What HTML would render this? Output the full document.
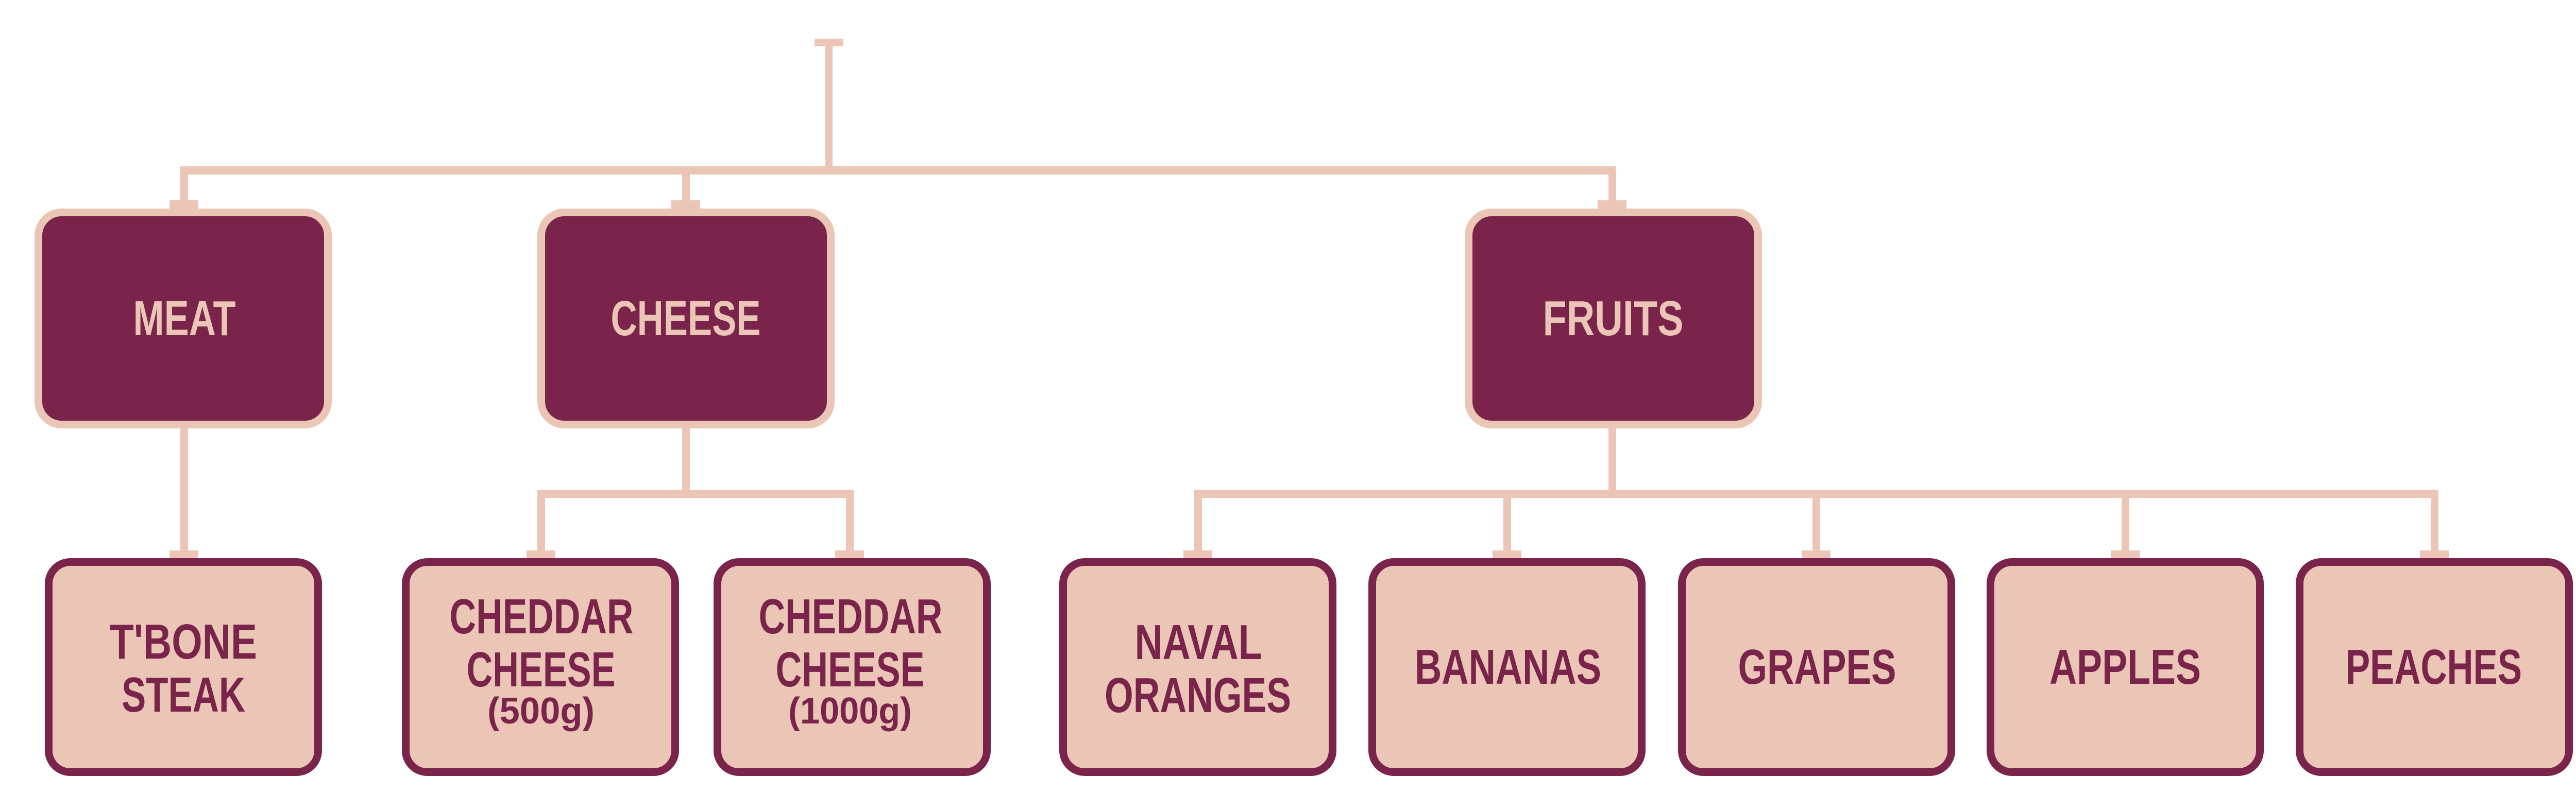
<!DOCTYPE html>
<html><head><meta charset="utf-8"><style>
html,body{margin:0;padding:0;background:#fff;}
svg{display:block;}
text{font-family:"Liberation Sans",sans-serif;text-anchor:middle;font-weight:bold;}
</style></head><body>
<svg width="5063" height="1575" viewBox="0 0 5063 1575" xmlns="http://www.w3.org/2000/svg">
<g fill="#EBC6B6">
<rect x="1581" y="75" width="56" height="15"/>
<rect x="1602" y="75" width="14" height="260"/>
<rect x="349" y="323" width="2788" height="16" rx="6"/>
<rect x="350" y="323" width="15" height="82"/>
<rect x="1324" y="323" width="15" height="82"/>
<rect x="3122" y="323" width="15" height="82"/>
<rect x="329" y="389" width="56" height="16"/>
<rect x="1303" y="389" width="56" height="16"/>
<rect x="3101" y="389" width="56" height="16"/>
<rect x="350" y="832" width="15" height="252"/>
<rect x="1324" y="832" width="15" height="127"/>
<rect x="1043" y="951" width="614" height="16" rx="6"/>
<rect x="1043" y="951" width="15" height="133"/>
<rect x="1642" y="951" width="15" height="133"/>
<rect x="3122" y="832" width="15" height="127"/>
<rect x="2318" y="951" width="2415" height="16" rx="6"/>
<rect x="2318" y="951" width="15" height="133"/>
<rect x="2918" y="951" width="15" height="133"/>
<rect x="3518" y="951" width="15" height="133"/>
<rect x="4118" y="951" width="15" height="133"/>
<rect x="4718" y="951" width="15" height="133"/>
<rect x="329" y="1069" width="56" height="16"/>
<rect x="1022" y="1069" width="56" height="16"/>
<rect x="1621" y="1069" width="56" height="16"/>
<rect x="2297" y="1069" width="56" height="16"/>
<rect x="2897" y="1069" width="56" height="16"/>
<rect x="3497" y="1069" width="56" height="16"/>
<rect x="4097" y="1069" width="56" height="16"/>
<rect x="4697" y="1069" width="56" height="16"/>
</g>
<g fill="#7A234B" stroke="#EBC6B6" stroke-width="15">
<rect x="74.5" y="412.5" width="562" height="412" rx="45"/>
<rect x="1050.5" y="412.5" width="562" height="412" rx="45"/>
<rect x="2850.5" y="412.5" width="562" height="412" rx="45"/>
</g>
<g fill="#EBC6B6" font-size="96">
<text x="358" y="651" textLength="199" lengthAdjust="spacingAndGlyphs">MEAT</text>
<text x="1331" y="651" textLength="291" lengthAdjust="spacingAndGlyphs">CHEESE</text>
<text x="3131" y="651" textLength="273" lengthAdjust="spacingAndGlyphs">FRUITS</text>
</g>
<g fill="#EBC6B6" stroke="#7A234B" stroke-width="15">
<rect x="94.5" y="1091.5" width="523" height="408" rx="42"/>
<rect x="787.5" y="1091.5" width="523" height="408" rx="42"/>
<rect x="1392.5" y="1091.5" width="523" height="408" rx="42"/>
<rect x="2063.5" y="1091.5" width="523" height="408" rx="42"/>
<rect x="2663.5" y="1091.5" width="523" height="408" rx="42"/>
<rect x="3264.5" y="1091.5" width="523" height="408" rx="42"/>
<rect x="3863.5" y="1091.5" width="523" height="408" rx="42"/>
<rect x="4463.5" y="1091.5" width="523" height="408" rx="42"/>
</g>
<g fill="#7A234B" font-size="96">
<text x="356" y="1279" textLength="286" lengthAdjust="spacingAndGlyphs">T'BONE</text>
<text x="356" y="1382" textLength="240" lengthAdjust="spacingAndGlyphs">STEAK</text>
<text x="1051" y="1230" textLength="357" lengthAdjust="spacingAndGlyphs">CHEDDAR</text>
<text x="1050" y="1333" textLength="289" lengthAdjust="spacingAndGlyphs">CHEESE</text>
<text x="1050" y="1405" font-size="72" textLength="208" lengthAdjust="spacingAndGlyphs">(500g)</text>
<text x="1651" y="1230" textLength="357" lengthAdjust="spacingAndGlyphs">CHEDDAR</text>
<text x="1650" y="1333" textLength="289" lengthAdjust="spacingAndGlyphs">CHEESE</text>
<text x="1650" y="1405" font-size="72" textLength="240" lengthAdjust="spacingAndGlyphs">(1000g)</text>
<text x="2326" y="1280" textLength="247" lengthAdjust="spacingAndGlyphs">NAVAL</text>
<text x="2325" y="1383" textLength="362" lengthAdjust="spacingAndGlyphs">ORANGES</text>
<text x="2927" y="1328" textLength="362" lengthAdjust="spacingAndGlyphs">BANANAS</text>
<text x="3527" y="1328" textLength="307" lengthAdjust="spacingAndGlyphs">GRAPES</text>
<text x="4125" y="1328" textLength="294" lengthAdjust="spacingAndGlyphs">APPLES</text>
<text x="4724" y="1328" textLength="342" lengthAdjust="spacingAndGlyphs">PEACHES</text>
</g>
</svg>
</body></html>
